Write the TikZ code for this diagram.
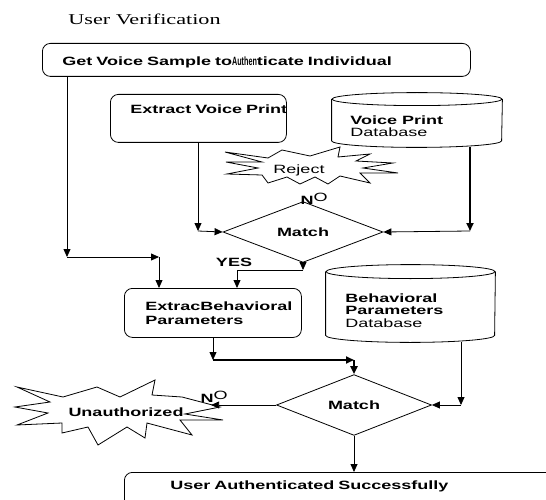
\documentclass[tikz,border=0pt]{standalone}
\usepackage{fontspec}
\usepackage{graphicx}
\usepackage{tikz}
\usetikzlibrary{shapes,arrows.meta}
\usetikzlibrary{positioning}
\usetikzlibrary{calc}
\setmainfont{Liberation Sans}
\newfontfamily\labelfont[FakeStretch=1.5]{Liberation Sans}
\newfontfamily\titlefont[FakeStretch=1.48]{Liberation Serif}
\tikzstyle{stepBox} = [rectangle, draw, rounded corners=8pt, anchor=north west, align=left, inner ysep=0pt, font=\labelfont\bfseries\fontsize{12}{14}\selectfont]
\tikzstyle{dataBase} = [rectangle, inner sep=0pt]
\tikzstyle{dbText} = [anchor=base west, align=left, inner sep=0pt, font=\labelfont\fontsize{12}{13}\selectfont]
\tikzstyle{decision} = [diamond, draw, inner sep=0pt, font=\labelfont\bfseries\fontsize{12}{14}\selectfont]
\tikzstyle{burst} = [inner sep=1pt]
\tikzstyle{flowArrow} = [draw, line width=0.8pt, -{Triangle[length=8pt,width=7pt]}]
\tikzstyle{heavyArrow} = [draw, line width=1.8pt, -{Triangle[length=8pt,width=7pt]}]
\tikzstyle{answer} = [inner sep=0pt, font=\labelfont\bfseries\fontsize{12}{14}\selectfont]

\begin{document}
\begin{tikzpicture}[x=1pt, y=-1pt, line width=0.8pt]
	\useasboundingbox (0,0) rectangle (546,500);
	
	\node[anchor=base west, inner sep=0pt, font=\titlefont\fontsize{15}{17}\selectfont](title)at(68,25){User Verification};
	
	\node[stepBox, text width=388pt, inner xsep=20pt, text height=22pt, text depth=11pt](getVoice)at(42,43){Get Voice Sample to\scalebox{0.4}[1]{Authen}ticate Individual};
	
	\node[stepBox, text width=136pt, inner xsep=20pt, text height=19pt, text depth=29pt](voiceBox)at(110,94){\rlap{Extract Voice Print}};
	
	\node[dataBase, minimum width=170pt, minimum height=54pt](voiceDb)at(417,120){};
	\draw ([yshift=-6.5pt]voiceDb.north) ellipse [x radius=85pt, y radius=6.5pt];
	\draw ([yshift=-6.5pt]voiceDb.north west) -- ([yshift=6.5pt]voiceDb.south west) arc[start angle=180, end angle=360, x radius=85pt, y radius=6.5pt] -- ([yshift=-6.5pt]voiceDb.north east);
	\node[dbText](voiceDbText)at(350,137){{\bfseries Voice Print}\\Database};
	
	\node[burst, font=\labelfont\fontsize{12}{14}\selectfont](reject)at(299,170){Reject};
	\draw[shift={(reject.center)}] (-74,-18) -- (-31,-12) -- (-17,-20) -- (11,-14) -- (41,-23) -- (39,-13) -- (71,-16) -- (57,-9) -- (94,-7) -- (64,-2) -- (99,3) -- (61,3) -- (71,13) -- (41,6) -- (29,14) -- (16,7) -- (1,14) -- (-12,7) -- (-31,13) -- (-37,5) -- (-72,4) -- (-41,-2) -- (-73,-8) -- (-37,-8) -- cycle;
	
	\node[decision, minimum width=160pt, minimum height=56pt](matchOne)at(303,232){Match};
	
	\node[stepBox, text width=135pt, inner xsep=21pt, minimum height=49pt](behavBox)at(124,288){ExtracBehavioral\\Parameters};
	
	\node[dataBase, minimum width=169pt, minimum height=77pt](behavDb)at(410.5,303.5){};
	\draw ([yshift=-7pt]behavDb.north) ellipse [x radius=84.5pt, y radius=7pt];
	\draw ([yshift=-7pt]behavDb.north west) -- ([yshift=7pt]behavDb.south west) arc[start angle=180, end angle=360, x radius=84.5pt, y radius=7pt] -- ([yshift=-7pt]behavDb.north east);
	\node[dbText, font=\labelfont\fontsize{12}{12.5}\selectfont](behavDbText)at(345,327){{\bfseries Behavioral}\\{\bfseries Parameters}\\Database};
	
	\node[decision, minimum width=155pt, minimum height=55pt](matchTwo)at(354,405){Match};
	
	\node[burst, font=\labelfont\bfseries\fontsize{12}{14}\selectfont](unauth)at(126,412){Unauthorized};
	\draw[shift={(unauth.center)}] (-109,-25) -- (-63,-15) -- (-29,-25) -- (-6,-15) -- (29,-32) -- (26,-17) -- (56,-15) -- (94,-5) -- (59,2) -- (97,8) -- (54,8) -- (66,23) -- (21,11) -- (19,26) -- (1,15) -- (-28,33) -- (-38,15) -- (-64,21) -- (-64,11) -- (-109,13) -- (-78,1) -- (-111,-5) -- (-76,-10) -- cycle;
	
	\node[stepBox, text width=400pt, inner xsep=46pt, text height=17pt, text depth=30pt](userOk)at(124,472){User Authenticated Successfully};
	
	% labels on the branches
	\node[answer](noOne)at(314,199){N\raisebox{3pt}{\mdseries O}};
	\node[answer](yesOne)at(234,262){YES};
	\node[answer](noTwo)at(214,397){N\raisebox{3pt}{\mdseries O}};
	
	% bends of the connectors
	\coordinate (c1) at (67,257);
	\coordinate (c2) at (159,257);
	\coordinate (c3) at (198,231);
	\coordinate (c4) at (470,231);
	\coordinate (c5) at (303,270);
	\coordinate (c6) at (237,270);
	\coordinate (c7) at (213,360);
	\coordinate (c8) at (354,360);
	\coordinate (c9) at (461,405);
	
	\draw[flowArrow] (getVoice.south -| c1) -- (c1);
	\draw[flowArrow] (c1) -- (c2);
	\draw[flowArrow] (c2) -- (c2 |- behavBox.north);
	
	\draw[flowArrow] (voiceBox.south -| c3) -- (c3);
	\draw[flowArrow] (c3) -- (matchOne.west);
	\draw[heavyArrow] (c4 |- voiceDb.south) -- (c4);
	\draw[flowArrow] (c4) -- (matchOne.east);
	
	\draw[flowArrow] (matchOne.south) -- (c5);
	\draw (c5) -- (c6);
	\draw[flowArrow] (c6) -- (c6 |- behavBox.north);
	
	\draw[flowArrow] (behavBox.south -| c7) -- (c7);
	\draw[heavyArrow] (c7) -- (c8);
	\draw[heavyArrow] (c8) -- (matchTwo.north);
	
	\draw[flowArrow] (c9 |- behavDb.south) -- (c9);
	\draw[flowArrow] (c9) -- (matchTwo.east);
	
	\draw[flowArrow] (matchTwo.west) -- ++(-65,0);
	\draw[flowArrow] (matchTwo.south) -- (matchTwo.south |- userOk.north);

	\end{tikzpicture}
\end{document}
